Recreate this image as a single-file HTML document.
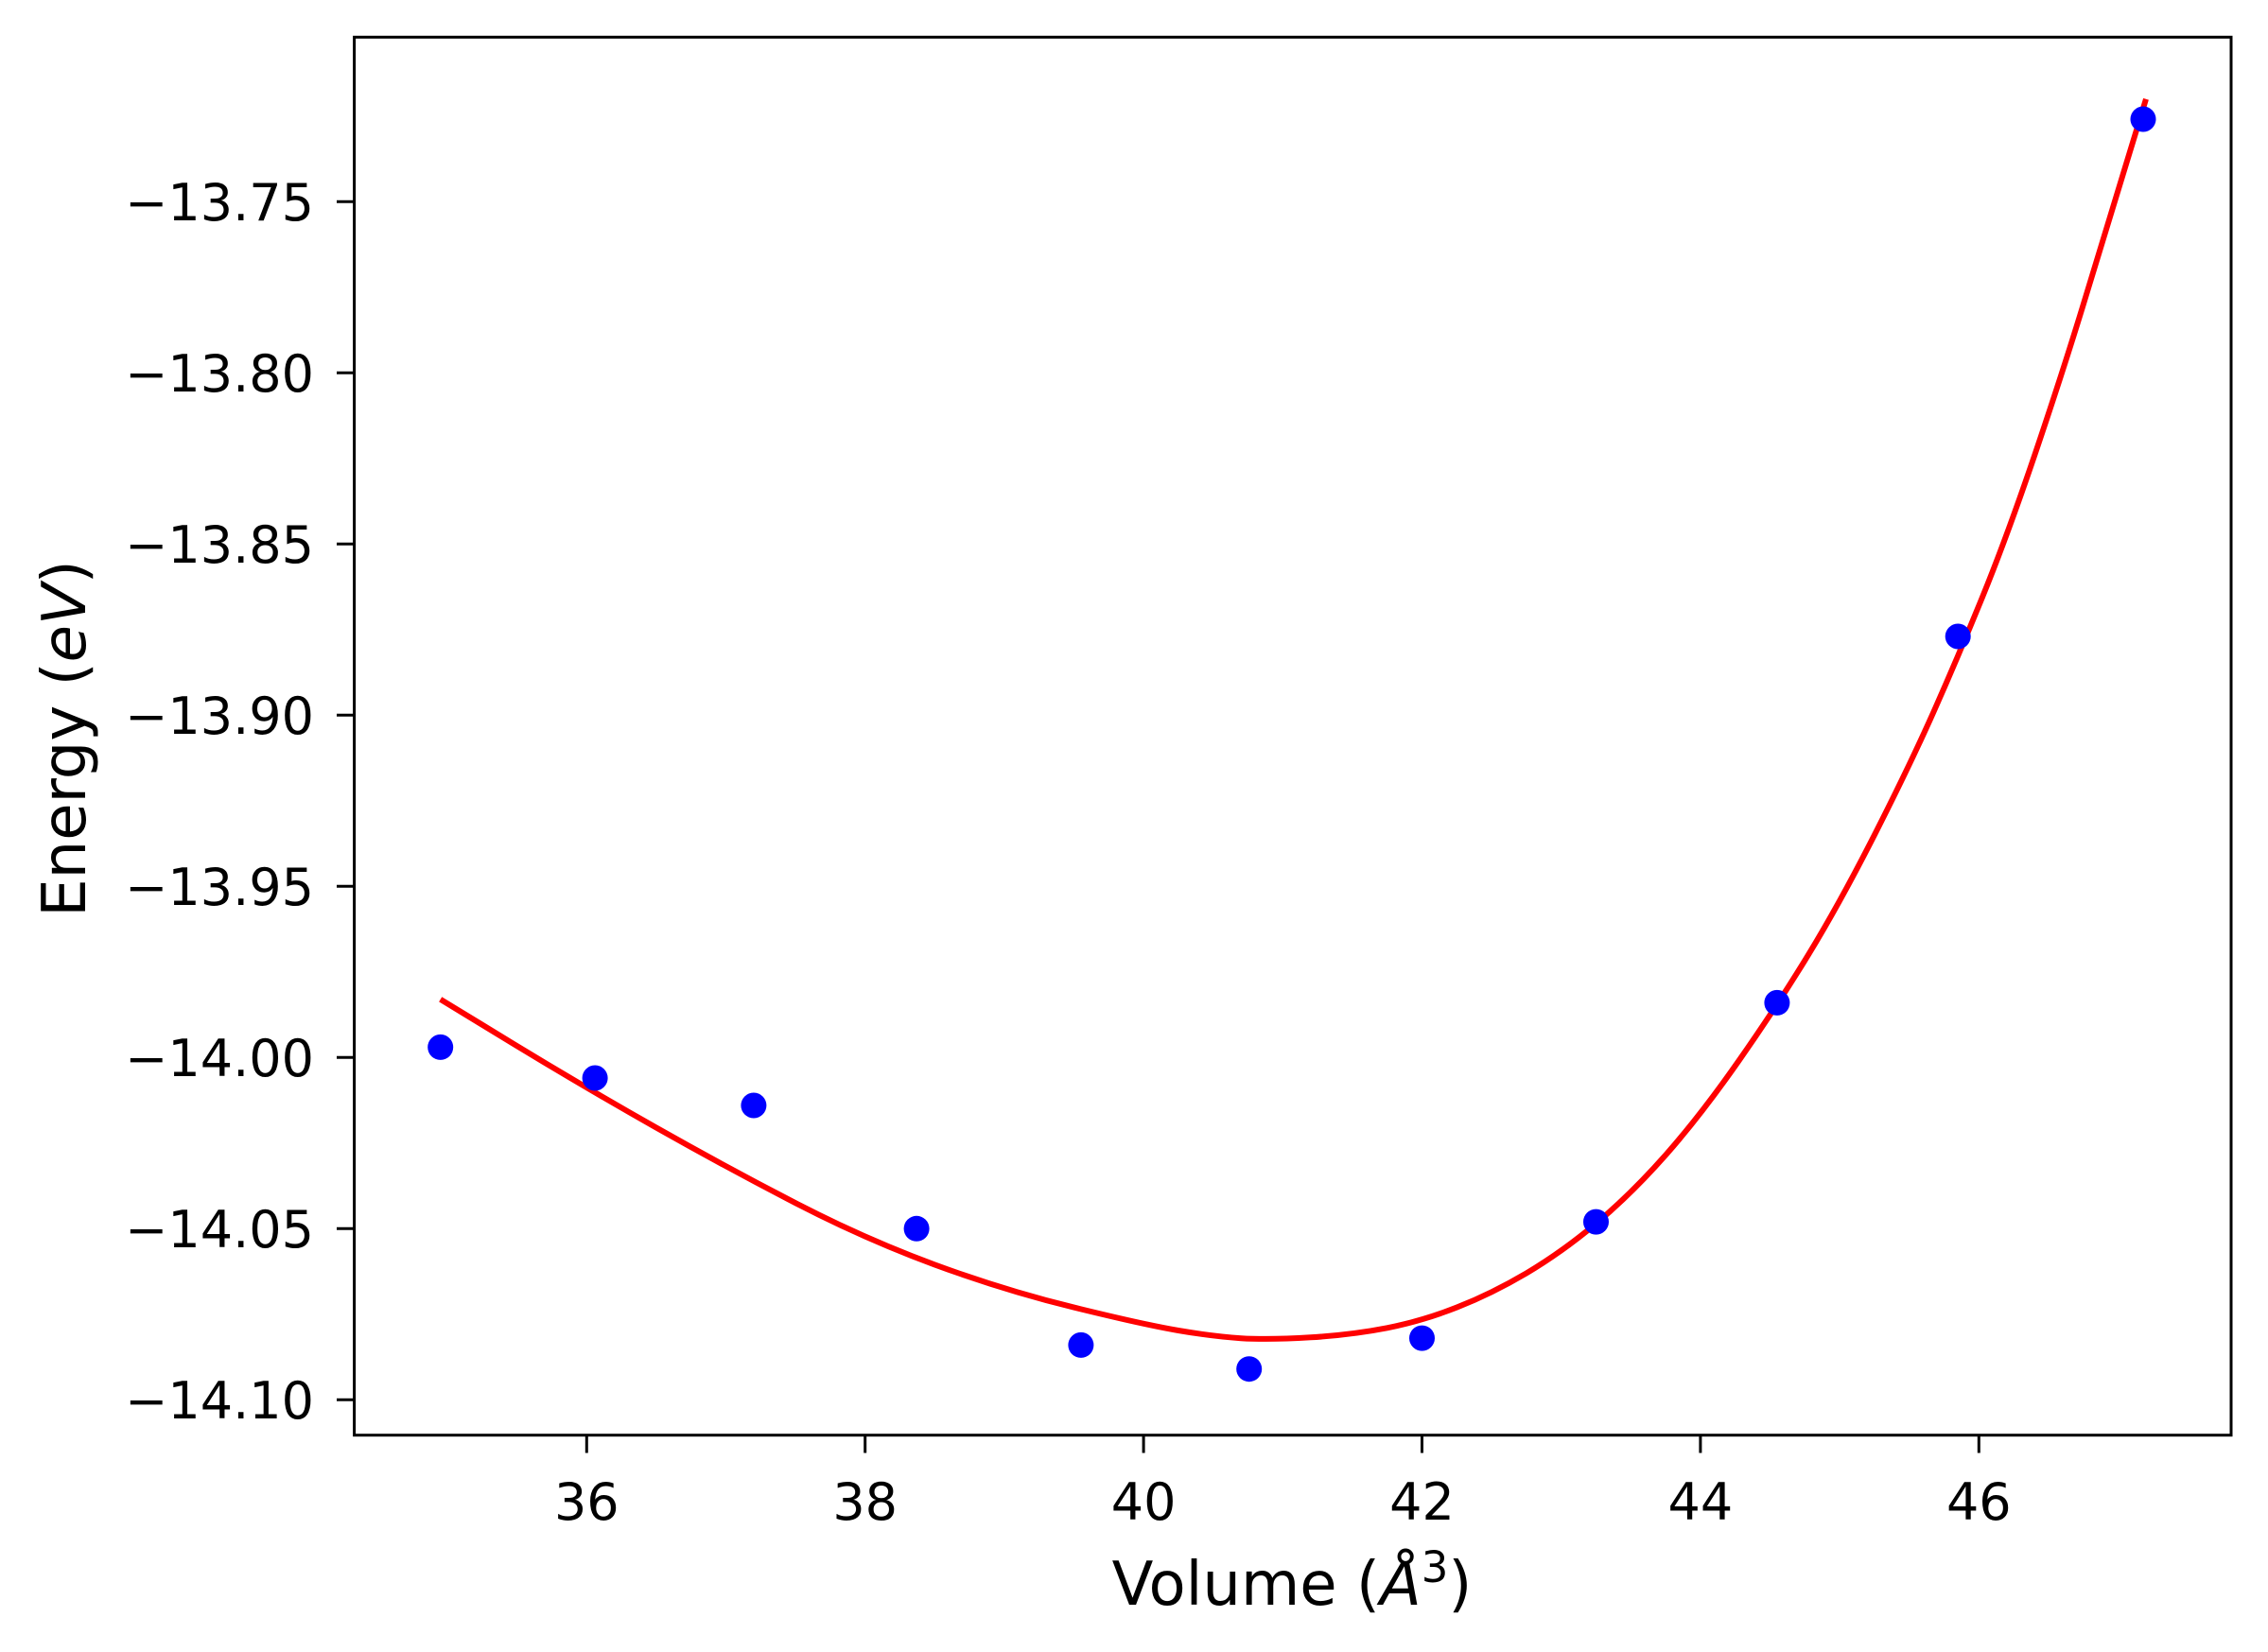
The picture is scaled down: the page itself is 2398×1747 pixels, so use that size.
<!DOCTYPE html>
<html><head><meta charset="utf-8"><style>
html,body{margin:0;padding:0;background:#fff;}
svg{display:block;}
text{font-family:"DejaVu Sans","Liberation Sans",sans-serif;fill:#000;}
</style></head><body>
<svg width="2398" height="1747" viewBox="0 0 2398 1747" xmlns="http://www.w3.org/2000/svg">
<rect width="2398" height="1747" fill="#fff"/>
<path fill="none" stroke="#ff0000" stroke-width="6" stroke-linejoin="round"
d="M465.7,1056.8 L543,1103.9 Q620.3,1150.9 693.9,1192.5 Q767.5,1234.1 841.1,1272.2 Q914.7,1310.2 988.3,1337.4 Q1061.9,1364.5 1135.5,1382.6 Q1209.1,1400.7 1245.9,1407 Q1282.7,1413.3 1312.2,1415.2 Q1341.6,1417 1385.8,1414.3 Q1429.9,1411.5 1466.7,1404.3 Q1503.5,1397 1540.3,1382.6 Q1577.1,1368.1 1613.9,1346.4 Q1650.7,1324.6 1687.5,1293.9 Q1724.3,1263.1 1761.1,1221.5 Q1797.9,1179.8 1838.4,1121.9 Q1878.9,1064 1912,1009.7 Q1945.1,955.4 1981.9,883 Q2018.7,810.6 2044.5,752.7 Q2070.2,694.8 2096,631.5 Q2121.8,568.1 2151.3,481.2 Q2180.7,394.3 2202.8,321.9 Q2224.8,249.5 2246.9,177.1 L2269,104.7"/>
<g fill="#0000ff">
<circle cx="465.7" cy="1107.4" r="13.5"/>
<circle cx="629.1" cy="1140" r="13.5"/>
<circle cx="796.9" cy="1169" r="13.5"/>
<circle cx="969.1" cy="1299.3" r="13.5"/>
<circle cx="1142.9" cy="1422.4" r="13.5"/>
<circle cx="1320.7" cy="1447.7" r="13.5"/>
<circle cx="1503.5" cy="1415.1" r="13.5"/>
<circle cx="1687.5" cy="1292.1" r="13.5"/>
<circle cx="1878.9" cy="1060.4" r="13.5"/>
<circle cx="2070.2" cy="673" r="13.5"/>
<circle cx="2266" cy="126" r="13.5"/>
</g>
<rect x="374.6" y="39.3" width="1984.4" height="1478.4" fill="none" stroke="#000" stroke-width="3"/>
<g stroke="#000" stroke-width="3">
<line x1="356" y1="213.3" x2="374.6" y2="213.3"/>
<line x1="356" y1="394.3" x2="374.6" y2="394.3"/>
<line x1="356" y1="575.3" x2="374.6" y2="575.3"/>
<line x1="356" y1="756.3" x2="374.6" y2="756.3"/>
<line x1="356" y1="937.3" x2="374.6" y2="937.3"/>
<line x1="356" y1="1118.3" x2="374.6" y2="1118.3"/>
<line x1="356" y1="1299.3" x2="374.6" y2="1299.3"/>
<line x1="356" y1="1480.3" x2="374.6" y2="1480.3"/>
<line x1="620.3" y1="1517.7" x2="620.3" y2="1536.5"/>
<line x1="914.7" y1="1517.7" x2="914.7" y2="1536.5"/>
<line x1="1209.1" y1="1517.7" x2="1209.1" y2="1536.5"/>
<line x1="1503.5" y1="1517.7" x2="1503.5" y2="1536.5"/>
<line x1="1797.9" y1="1517.7" x2="1797.9" y2="1536.5"/>
<line x1="2092.3" y1="1517.7" x2="2092.3" y2="1536.5"/>
</g>
<g font-size="54" text-anchor="end">
<text x="332" y="233">−13.75</text>
<text x="332" y="414">−13.80</text>
<text x="332" y="595">−13.85</text>
<text x="332" y="776">−13.90</text>
<text x="332" y="957">−13.95</text>
<text x="332" y="1138">−14.00</text>
<text x="332" y="1319">−14.05</text>
<text x="332" y="1500">−14.10</text>
</g>
<g font-size="54" text-anchor="middle">
<text x="620.3" y="1607">36</text>
<text x="914.7" y="1607">38</text>
<text x="1209.1" y="1607">40</text>
<text x="1503.5" y="1607">42</text>
<text x="1797.9" y="1607">44</text>
<text x="2092.3" y="1607">46</text>
</g>
<text x="1366" y="1697" font-size="64" text-anchor="middle">Volume (<tspan font-style="italic">Å</tspan><tspan font-size="45" dy="-24">3</tspan><tspan dy="24">)</tspan></text>
<text transform="translate(90,781) rotate(-90)" font-size="64" text-anchor="middle">Energy (<tspan font-style="italic">eV</tspan>)</text>
</svg>
</body></html>
